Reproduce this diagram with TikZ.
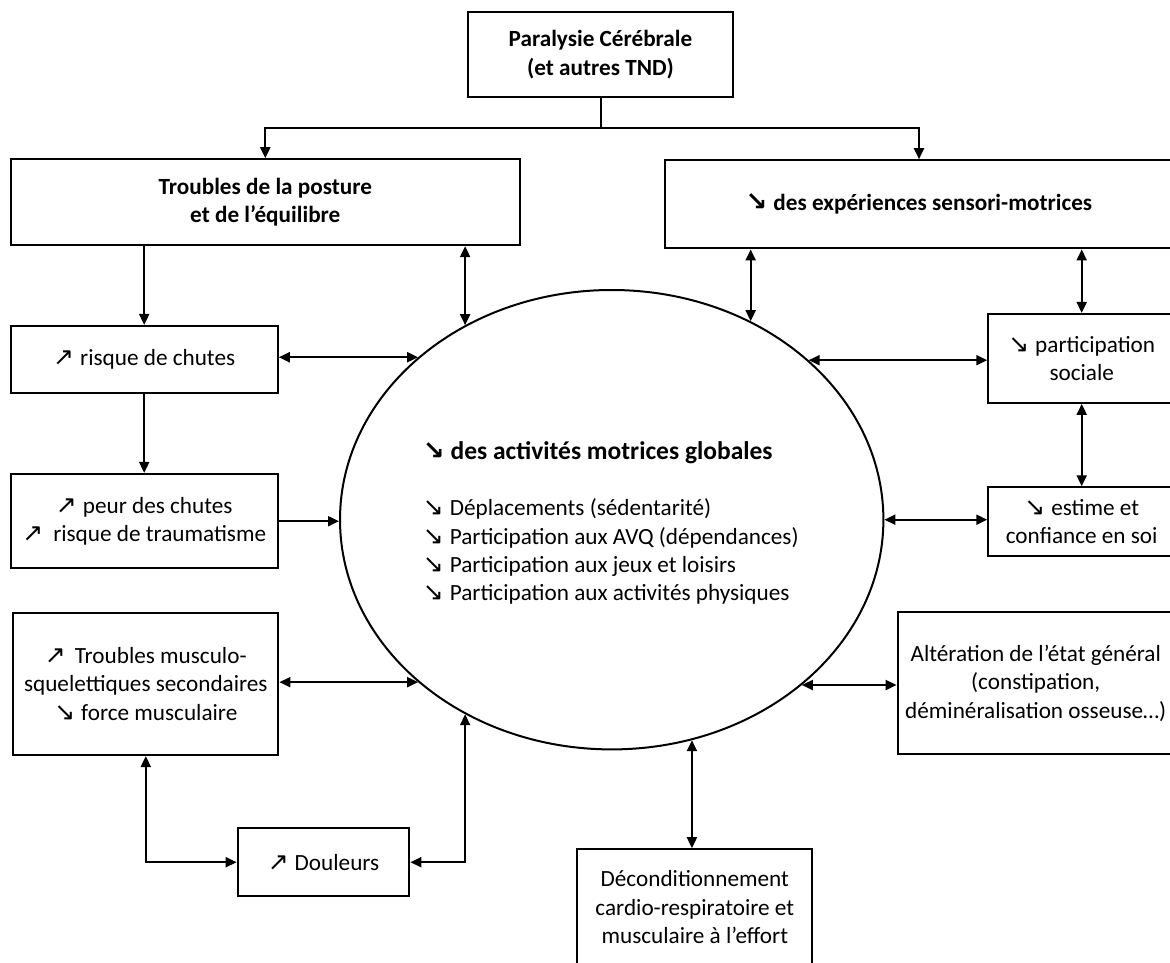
\documentclass[tikz,border=0pt]{standalone}
\usepackage{fontspec}
\setmainfont{Carlito}
\newfontfamily\arrowfont{DejaVu Sans}
\usetikzlibrary{arrows.meta,shapes.geometric}
\newcommand\upar{{\arrowfont\fontsize{25}{25}\selectfont ↗}\hspace{6pt}}
\newcommand\dnar{{\arrowfont\fontsize{25}{25}\selectfont ↘}\hspace{6pt}}
\newcommand\dnarb{{\arrowfont\bfseries\fontsize{26}{26}\selectfont ↘}\hspace{6pt}}
\begin{document}
\begin{tikzpicture}[x=1pt,y=-1pt,
  box/.style={draw, line width=2.2pt, inner sep=0pt, align=center, font=\fontsize{23.2}{28.3}\selectfont},
  bbox/.style={box, font=\fontsize{23.2}{28.3}\selectfont\bfseries},
  link/.style={line width=2pt, -{Triangle[length=11pt,width=10pt]}},
  both/.style={line width=2pt, {Triangle[length=11pt,width=10pt]}-{Triangle[length=11pt,width=10pt]}}]
\useasboundingbox (0,0) rectangle (1170,963);
\node[bbox, minimum width=265.6pt, minimum height=84.7pt] (top) at (600.5,54.7) {Paralysie Cérébrale\\(et autres TND)};
\node[bbox, minimum width=509.3pt, minimum height=85.7pt] (posture) at (265.3,202.2) {Troubles de la posture\\et de l’équilibre};
\node[bbox, minimum width=508pt, minimum height=88pt] (sens) at (919,204.3) {\dnarb des expériences sensori-motrices};
\node[box, minimum width=267pt, minimum height=67.3pt] (chutes) at (144.2,359.7) {\upar risque de chutes};
\node[box, minimum width=267pt, minimum height=94.3pt] (peur) at (144.2,521.2) {\upar peur des chutes\\\upar\hspace{4pt}risque de traumatisme};
\node[box, minimum width=265pt, minimum height=142.3pt] (musc) at (145.8,683.8) {\upar\hspace{3pt}Troubles musculo-\\squelettiques secondaires\\\dnar force musculaire};
\node[box, minimum width=171.6pt, minimum height=67.7pt] (dou) at (323.5,862.2) {\upar Douleurs};
\node[box, minimum width=235pt, minimum height=116pt] (dec) at (694.8,907.3) {Déconditionnement\\cardio-respiratoire et\\musculaire à l’effort};
\node[box, minimum width=186.7pt, minimum height=88.7pt] (part) at (1081.7,358.4) {\dnar participation\\sociale};
\node[box, minimum width=186.7pt, minimum height=68.7pt] (est) at (1081.7,521.7) {\dnar estime et\\confiance en soi};
\node[box, minimum width=276pt, minimum height=142pt] (alt) at (1035.7,683.3) {Altération de l’état général\\(constipation,\\déminéralisation osseuse…)};
\node[draw, ellipse, line width=2pt, minimum width=543.4pt, minimum height=459.4pt, inner sep=0pt] (ell) at (611.7,519.7) {};
\node[anchor=west, align=left, inner sep=0pt, font=\fontsize{23.2}{28.3}\selectfont] (elltxt) at (422.7,523) {{\fontsize{25.5}{28.3}\selectfont\bfseries\dnarb des activités motrices globales}\\[28.3pt]\dnar Déplacements (sédentarité)\\\dnar Participation aux AVQ (dépendances)\\\dnar Participation aux jeux et loisirs\\\dnar Participation aux activités physiques};
\coordinate (split) at (600.5,127.7);
\draw[line width=2pt] (top.south) -- (split);
\draw[link] (split) -| (posture.north);
\draw[link] (split) -| (sens.north);
\draw[link] (posture.south -| chutes.north) -- (chutes.north);
\draw[link] (chutes.south) -- (peur.north);
\draw[both] (posture.south -| ell.127.6) -- (ell.127.6);
\draw[both] (ell.140.4 -| chutes.east) -- (ell.140.4);
\draw[link] (peur.east) -- (peur.east -| ell.west);
\draw[both] (ell.220.6 -| musc.east) -- (ell.220.6);
\draw[both] (musc.south) |- (dou.west);
\draw[both] (dou.east) -| (ell.233.9);
\draw[both] (ell.55.9) -- (ell.55.9 |- sens.south);
\draw[both] (part.north) -- (part.north |- sens.south);
\draw[both] (ell.39.6) -- (ell.39.6 -| part.west);
\draw[both] (part.south) -- (est.north);
\draw[both] (ell.east) -- (ell.east -| est.west);
\draw[both] (ell.319.4) -- (ell.319.4 -| alt.west);
\draw[both] (ell.290.4) -- (ell.290.4 |- dec.north);
\end{tikzpicture}
\end{document}
